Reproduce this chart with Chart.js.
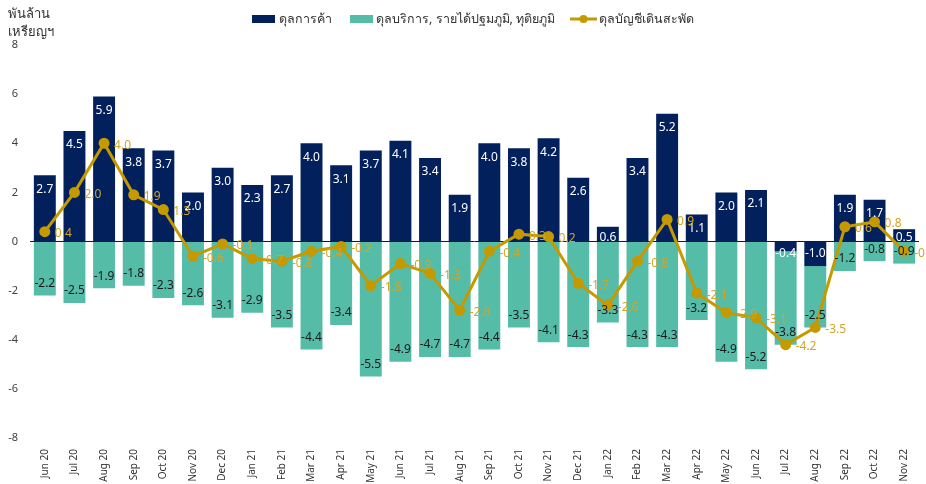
<!DOCTYPE html>
<html>
<head>
<meta charset="utf-8">
<script src="https://cdn.jsdelivr.net/npm/chart.js@4.4.1/dist/chart.umd.min.js"></script>
<style>
    html, body { margin: 0; padding: 0; background: #fff; }
    #wrap { width: 926px; height: 484px; position: relative; }
</style>
</head>
<body>
<div id="wrap"><canvas id="myChart" width="926" height="484"></canvas></div>
<script>
'use strict';
let months = ['Jun 20', 'Jul 20', 'Aug 20', 'Sep 20', 'Oct 20', 'Nov 20', 'Dec 20', 'Jan 21', 'Feb 21', 'Mar 21',
    'Apr 21', 'May 21', 'Jun 21', 'Jul 21', 'Aug 21', 'Sep 21', 'Oct 21', 'Nov 21', 'Dec 21', 'Jan 22',
    'Feb 22', 'Mar 22', 'Apr 22', 'May 22', 'Jun 22', 'Jul 22', 'Aug 22', 'Sep 22', 'Oct 22', 'Nov 22'];
let tradeBalance = [2.7, 4.5, 5.9, 3.8, 3.7, 2.0, 3.0, 2.3, 2.7, 4.0, 3.1, 3.7, 4.1, 3.4, 1.9, 4.0, 3.8, 4.2, 2.6, 0.6,
    3.4, 5.2, 1.1, 2.0, 2.1, -0.4, -1.0, 1.9, 1.7, 0.5];
let servicesIncome = [-2.2, -2.5, -1.9, -1.8, -2.3, -2.6, -3.1, -2.9, -3.5, -4.4, -3.4, -5.5, -4.9, -4.7, -4.7, -4.4, -3.5, -4.1, -4.3, -3.3,
    -4.3, -4.3, -3.2, -4.9, -5.2, -3.8, -2.5, -1.2, -0.8, -0.9];
let currentAccount = [0.4, 2.0, 4.0, 1.9, 1.3, -0.6, -0.1, -0.7, -0.8, -0.4, -0.2, -1.8, -0.9, -1.3, -2.8, -0.4, 0.3, 0.2, -1.7, -2.6,
    -0.8, 0.9, -2.1, -2.9, -3.1, -4.2, -3.5, 0.6, 0.8, -0.4];
let yTicks = [-8, -6, -4, -2, 0, 2, 4, 6, 8];
let seriesNames = ['ดุลการค้า', 'ดุลบริการ, รายได้ปฐมภูมิ, ทุติยภูมิ', 'ดุลบัญชีเดินสะพัด'];
let yTitle = ['พันล้าน', 'เหรียญฯ'];

let navy = '#02205c';
let teal = '#55bca8';
let gold = '#c49a00';
let fontFam = '"Noto Sans", "DejaVu Sans", sans-serif';

// labels on bars / points, and the legend + axis title
let labelPlugin = {
    id: 'labels',
    afterDatasetsDraw(chart) {
        let ctx = chart.ctx;
        let zero = chart.scales.y.getPixelForValue(0);
        ctx.save();
        ctx.font = '12px ' + fontFam;
        ctx.textAlign = 'center';
        ctx.textBaseline = 'middle';

        chart.getDatasetMeta(0).data.forEach(function (bar, i) {
            let v = tradeBalance[i];
            let h = Math.abs(zero - bar.y);
            let y = v >= 0 ? zero - Math.max(h - 14, 4) : zero + Math.max(h - 12, 12);
            ctx.fillStyle = '#ffffff';
            ctx.fillText(v.toFixed(1), bar.x, y);
        });
        chart.getDatasetMeta(1).data.forEach(function (bar, i) {
            ctx.fillStyle = '#1a1a1a';
            ctx.fillText(servicesIncome[i].toFixed(1), bar.x, bar.y - 12);
        });
        ctx.textAlign = 'left';
        chart.getDatasetMeta(2).data.forEach(function (pt, i) {
            ctx.fillStyle = '#d3a523';
            ctx.fillText(currentAccount[i].toFixed(1), pt.x + 10, pt.y + 2);
        });
        ctx.restore();
    },
    afterDraw(chart) {
        let ctx = chart.ctx;
        ctx.save();
        ctx.textBaseline = 'middle';
        ctx.textAlign = 'left';
        ctx.fillStyle = '#333333';
        ctx.font = '13px ' + fontFam;
        ctx.fillText(yTitle[0], 8, 14);
        ctx.fillText(yTitle[1], 8, 32);

        // legend
        ctx.font = '12.5px ' + fontFam;
        ctx.fillStyle = navy;
        ctx.fillRect(252, 15, 23, 8);
        ctx.fillStyle = '#333333';
        ctx.fillText(seriesNames[0], 279, 19);
        ctx.fillStyle = teal;
        ctx.fillRect(350, 15, 23, 8);
        ctx.fillStyle = '#333333';
        ctx.fillText(seriesNames[1], 376, 19);
        ctx.strokeStyle = gold;
        ctx.lineWidth = 3;
        ctx.beginPath();
        ctx.moveTo(570, 19);
        ctx.lineTo(597, 19);
        ctx.stroke();
        ctx.fillStyle = gold;
        ctx.beginPath();
        ctx.arc(583.5, 19, 4, 0, Math.PI * 2);
        ctx.fill();
        ctx.fillStyle = '#333333';
        ctx.fillText(seriesNames[2], 599, 19);
        ctx.restore();
    }
};

let ctx = document.getElementById('myChart').getContext('2d');
let myChart = new Chart(ctx, {
    type: 'bar',
    data: {
        labels: months,
        datasets: [{
            label: seriesNames[0],
            data: tradeBalance,
            backgroundColor: navy,
            stack: 'bal',
            order: 2
        }, {
            label: seriesNames[1],
            data: servicesIncome,
            backgroundColor: teal,
            stack: 'bal',
            order: 2
        }, {
            type: 'line',
            label: seriesNames[2],
            data: currentAccount,
            borderColor: gold,
            backgroundColor: gold,
            borderWidth: 3,
            pointRadius: 4,
            pointHoverRadius: 4,
            tension: 0,
            stack: 'ca',
            order: 1
        }]
    },
    plugins: [labelPlugin],
    options: {
        responsive: false,
        animation: false,
        events: [],
        layout: { padding: { top: 45, left: 0, right: 0, bottom: 0 } },
        datasets: { bar: { categoryPercentage: 1, barPercentage: 0.74 } },
        plugins: {
            legend: { display: false },
            tooltip: { enabled: false }
        },
        scales: {
            x: {
                stacked: true,
                grid: { display: false },
                border: { display: false },
                ticks: {
                    maxRotation: 90,
                    minRotation: 90,
                    autoSkip: false,
                    padding: 3,
                    color: '#333333',
                    font: { family: fontFam, size: 10 }
                },
                afterFit: function (s) { s.height = 46; }
            },
            y: {
                stacked: true,
                min: yTicks[0],
                max: yTicks[yTicks.length - 1],
                z: 1,
                afterBuildTicks: function (s) { s.ticks = yTicks.map(v => ({ value: v })); },
                grid: {
                    drawTicks: false,
                    color: c => (c.tick && c.tick.value === 0 ? '#1a1a1a' : 'rgba(0,0,0,0)'),
                    lineWidth: 1
                },
                border: { display: false },
                ticks: {
                    padding: 12,
                    color: '#404040',
                    font: { family: fontFam, size: 11 }
                },
                afterFit: function (s) { s.width = 30; }
            }
        }
    }
});
</script>
</body>
</html>
